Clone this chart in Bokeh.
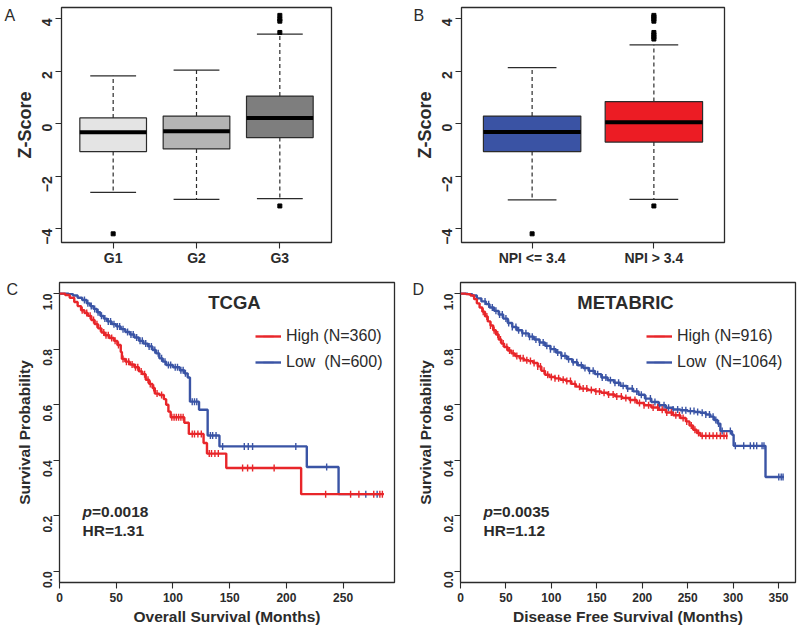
import math
import numpy as np
from bokeh.plotting import figure
from bokeh.models import Range1d, FixedTicker, Label, Legend, LegendItem, NumeralTickFormatter
from bokeh.layouts import column, row
from bokeh.embed import file_html
from bokeh.resources import INLINE

FONT = "Liberation Sans"
INK = "#2b2b2b"
RED = "#e8262a"
BLUE = "#3a54a5"

# ---------------- Panel A : tumour grade ----------------
a_groups = ["G1", "G2", "G3"]
a_q1 = [-1.06, -0.96, -0.53]
a_med = [-0.33, -0.29, 0.22]
a_q3 = [0.22, 0.29, 1.05]
a_low = [-2.61, -2.88, -2.85]
a_high = [1.82, 2.04, 3.41]
a_fill = ["#e4e4e4", "#b4b4b4", "#7e7e7e"]
a_out_group = ["G1", "G3", "G3", "G3", "G3", "G3"]
a_out_val = [-4.19, -3.13, 3.47, 3.90, 3.98, 4.12]

# ---------------- Panel B : NPI ----------------
b_groups = ["NPI <= 3.4", "NPI > 3.4"]
b_q1 = [-1.06, -0.70]
b_med = [-0.32, 0.05]
b_q3 = [0.29, 0.84]
b_low = [-2.90, -2.88]
b_high = [2.13, 3.00]
b_fill = ["#3a53a4", "#ec1c24"]
b_out_group = ["NPI <= 3.4", "NPI > 3.4", "NPI > 3.4", "NPI > 3.4", "NPI > 3.4",
               "NPI > 3.4", "NPI > 3.4", "NPI > 3.4", "NPI > 3.4", "NPI > 3.4"]
b_out_val = [-4.19, -3.13, 3.22, 3.30, 3.38, 3.47, 3.90, 3.98, 4.06, 4.12]

# ---------------- Panel C : TCGA overall survival ----------------
c_high_t = [0, 5, 9, 13, 16, 19, 22, 25, 28, 31, 34, 37, 40, 44, 48, 51, 54, 55, 58, 62,
            66, 70, 73, 76, 79, 82, 84, 88, 92, 94, 96, 98, 110, 114, 127, 130, 147, 213, 286]
c_high_s = [1.0, 0.995, 0.985, 0.97, 0.955, 0.94, 0.93, 0.92, 0.905, 0.89, 0.875, 0.86, 0.85,
            0.84, 0.83, 0.815, 0.79, 0.765, 0.755, 0.745, 0.735, 0.72, 0.71, 0.69, 0.675, 0.66,
            0.64, 0.635, 0.62, 0.60, 0.575, 0.555, 0.535, 0.495, 0.462, 0.424, 0.372, 0.278, 0.278]
c_high_cens = [20, 24, 27, 30, 33, 36, 39, 41, 43, 46, 49, 52, 56, 59, 61, 64, 67, 69, 72, 75,
               78, 80, 83, 86, 90, 99, 101, 103, 105, 107, 109, 117, 119, 122, 125, 132, 134,
               137, 140, 161.4, 165.8, 170.2, 189.2, 234.6, 256.6, 263.9, 277, 282.4, 284.6]
c_low_t = [0, 8, 12, 16, 20, 24, 27, 30, 33, 36, 39, 42, 46, 50, 54, 58, 62, 66, 70, 74, 78,
           82, 85, 88, 91, 94, 100, 106, 110, 113, 115, 123, 130.6, 141, 218, 246, 283]
c_low_s = [1.0, 0.998, 0.993, 0.985, 0.977, 0.965, 0.955, 0.945, 0.933, 0.92, 0.91, 0.90,
           0.89, 0.882, 0.872, 0.862, 0.853, 0.842, 0.83, 0.82, 0.81, 0.797, 0.785, 0.767,
           0.755, 0.743, 0.735, 0.724, 0.713, 0.698, 0.611, 0.582, 0.489, 0.45, 0.376, 0.278, 0.278]
c_low_cens = [22, 25, 28, 31, 34, 37, 40, 43, 45, 48, 51, 53, 56, 60, 63, 65, 68, 71, 73, 76,
              79, 81, 84, 87, 90, 93, 96, 98, 102, 104, 107, 109, 111, 117, 119, 121, 133, 135,
              138, 143.8, 162.9, 166.4, 170.2, 208.3, 235.5, 270, 280]

# ---------------- Panel D : METABRIC disease free survival ----------------
d_high_t = [0, 6, 11, 15, 18, 21, 24, 27, 30, 33, 36, 39, 42, 45, 48, 52, 56, 60, 65, 70,
            75, 80, 85, 89, 93, 98, 104, 110, 116, 122, 127, 132, 140, 148, 155, 162, 170,
            178, 186, 194, 202, 210, 218, 226, 234, 242, 248, 252, 256, 260, 264, 294]
d_high_s = [1.0, 0.998, 0.993, 0.98, 0.965, 0.95, 0.935, 0.918, 0.90, 0.885, 0.868, 0.853,
            0.835, 0.82, 0.808, 0.795, 0.785, 0.775, 0.767, 0.76, 0.757, 0.75, 0.738, 0.722,
            0.708, 0.70, 0.695, 0.69, 0.685, 0.675, 0.665, 0.658, 0.653, 0.648, 0.643, 0.637,
            0.63, 0.624, 0.617, 0.606, 0.598, 0.59, 0.582, 0.572, 0.562, 0.552, 0.54, 0.525,
            0.51, 0.498, 0.488, 0.488]
d_high_cens = [25, 29, 33, 37, 41, 44, 47, 51, 54, 58, 62, 66, 69, 73, 77, 81, 85, 88, 92, 96,
               100, 104, 108, 113, 117, 121, 126, 131, 135, 139, 144, 149, 153, 158, 163, 168,
               172, 177, 182, 187, 192, 197, 202, 207, 212, 217, 222, 227, 232, 237, 241, 245,
               249, 254, 258, 262, 266, 270, 274, 278, 282, 286, 290, 293]
d_low_t = [0, 8, 13, 18, 23, 28, 32, 37, 42, 47, 52, 57, 62, 68, 75, 81, 87, 93, 99, 105,
           111, 117, 123, 129, 135, 141, 148, 155, 162, 169, 176, 183, 190, 196, 203, 210,
           218, 226, 234, 242, 250, 258, 264, 270, 275, 279, 283, 286, 298.8, 300.6, 335.7, 356]
d_low_s = [1.0, 0.998, 0.993, 0.983, 0.972, 0.962, 0.95, 0.938, 0.925, 0.91, 0.894, 0.88,
           0.868, 0.857, 0.845, 0.835, 0.824, 0.812, 0.80, 0.788, 0.776, 0.764, 0.753, 0.742,
           0.732, 0.722, 0.71, 0.698, 0.688, 0.679, 0.668, 0.658, 0.648, 0.636, 0.622, 0.61,
           0.598, 0.589, 0.583, 0.58, 0.577, 0.574, 0.571, 0.565, 0.557, 0.545, 0.532, 0.505,
           0.492, 0.452, 0.34, 0.34]
d_low_cens = [27, 31, 35, 39, 43, 46, 50, 53, 57, 61, 64, 68, 72, 76, 79, 83, 87, 91, 95, 99,
              103, 107, 111, 115, 119, 124, 128, 133, 137, 142, 146, 151, 156, 160, 165, 170,
              174, 179, 184, 189, 194, 199, 204, 209, 214, 219, 224, 229, 234, 239, 244, 248,
              253, 257, 261, 266, 270, 274, 278, 281, 284, 288, 297, 302.5, 311.7, 319, 322.7,
              326, 331.9, 334, 350.3, 353, 355]

TOP_H = 278
BOT_H = 357


def base_fig(width, height, left, right, top, bottom, xr, yr):
    p = figure(width=width, height=height, x_range=Range1d(*xr), y_range=Range1d(*yr),
               output_backend="svg", toolbar_location=None,
               min_border_left=left, min_border_right=right,
               min_border_top=top, min_border_bottom=bottom)
    p.xgrid.visible = False
    p.ygrid.visible = False
    p.outline_line_color = INK
    p.outline_line_width = 1.3
    p.outline_line_alpha = 1.0
    for ax in p.axis:
        ax.axis_line_color = None
        ax.major_tick_line_color = INK
        ax.major_tick_line_width = 1.1
        ax.major_tick_out = 6
        ax.major_tick_in = 0
        ax.minor_tick_line_color = None
        ax.major_label_text_font = FONT
        ax.major_label_text_font_style = "bold"
        ax.major_label_text_color = INK
        ax.axis_label_text_font = FONT
        ax.axis_label_text_font_style = "bold"
        ax.axis_label_text_color = INK
    p.yaxis.major_label_orientation = math.pi / 2
    return p


def letter(p, text, x, y):
    # placed in the left side panel so that it is not clipped by the frame
    p.add_layout(Label(x=x, y=y, x_units="screen", y_units="screen", text=text,
                       text_font=FONT, text_font_size="16px", text_color=INK,
                       text_align="left", text_baseline="middle"), "left")


def box_panel(groups, q1, med, q3, lo, hi, fills, out_g, out_v, cap_w, width, left, right):
    n = len(groups)
    xs = [i + 1 for i in range(n)]
    p = base_fig(width, TOP_H, left, right, 7, 36,
                 (0.5 - 0.04 * n, n + 0.5 + 0.04 * n), (-4.52, 4.42))
    p.segment(x0=xs, y0=q3, x1=xs, y1=hi, line_color=INK, line_width=1.2, line_dash="4 3")
    p.segment(x0=xs, y0=q1, x1=xs, y1=lo, line_color=INK, line_width=1.2, line_dash="4 3")
    cx0 = [x - cap_w / 2 for x in xs]
    cx1 = [x + cap_w / 2 for x in xs]
    p.segment(x0=cx0, y0=hi, x1=cx1, y1=hi, line_color=INK, line_width=1.2)
    p.segment(x0=cx0, y0=lo, x1=cx1, y1=lo, line_color=INK, line_width=1.2)
    p.vbar(x=xs, width=0.8, bottom=q1, top=q3, fill_color=fills, line_color=INK,
           line_width=1.2)
    p.segment(x0=[x - 0.4 for x in xs], y0=med, x1=[x + 0.4 for x in xs], y1=med,
              line_color="black", line_width=4)
    ox = [groups.index(g) + 1 for g in out_g]
    p.scatter(ox, out_v, marker="square", size=4, color="black")
    p.xaxis.ticker = FixedTicker(ticks=xs)
    p.xaxis.major_label_overrides = {x: g for x, g in zip(xs, groups)}
    p.xaxis.major_label_text_font_size = "14px"
    p.xaxis.major_label_standoff = 1
    p.yaxis.ticker = FixedTicker(ticks=[-4, -2, 0, 2, 4])
    p.yaxis.major_label_text_font_size = "14px"
    p.yaxis.major_label_standoff = 8
    p.yaxis.axis_label = "Z-Score"
    p.yaxis.axis_label_text_font_size = "18px"
    p.yaxis.axis_label_standoff = 0
    return p


def step_at(times, surv, t):
    i = int(np.searchsorted(np.asarray(times, dtype=float), t, side="right")) - 1
    return surv[i]


def km_panel(width, left, right, xmax, xticks, series, title, title_x, leg_x, pval, hr,
             xlabel):
    p = base_fig(width, BOT_H, left, right, 4, 53, (0, xmax), (-0.04, 1.04))
    items = []
    for times, surv, cens, col, lab in series:
        rl = p.step(times, surv, mode="after", line_color=col, line_width=2.4)
        cy = [step_at(times, surv, c) for c in cens]
        rc = p.scatter(cens, cy, marker="dash", angle=math.pi / 2, size=7, line_color=col,
                       line_width=1.4)
        items.append(LegendItem(label=lab, renderers=[rl, rc]))
    items = items[::-1]
    leg = Legend(items=items, location=(leg_x, 207), orientation="vertical",
                 glyph_width=26, glyph_height=26, label_height=26, label_standoff=5,
                 spacing=0, padding=0, margin=0, border_line_color=None,
                 background_fill_alpha=0, label_text_font=FONT,
                 label_text_font_size="16px", label_text_color=INK)
    p.add_layout(leg)
    p.add_layout(Label(x=title_x, y=280, x_units="screen", y_units="screen", text=title,
                       text_font=FONT, text_font_size="18.5px", text_font_style="bold",
                       text_color=INK, text_align="center", text_baseline="middle"))
    p.add_layout(Label(x=23, y=71, x_units="screen", y_units="screen", text="p",
                       text_font=FONT, text_font_size="15.5px",
                       text_font_style="bold italic", text_color=INK,
                       text_align="left", text_baseline="middle"))
    p.add_layout(Label(x=32.5, y=71, x_units="screen", y_units="screen", text=pval,
                       text_font=FONT, text_font_size="15.5px", text_font_style="bold",
                       text_color=INK, text_align="left", text_baseline="middle"))
    p.add_layout(Label(x=23, y=52, x_units="screen", y_units="screen", text=hr,
                       text_font=FONT, text_font_size="15.5px", text_font_style="bold",
                       text_color=INK, text_align="left", text_baseline="middle"))
    p.xaxis.ticker = FixedTicker(ticks=xticks)
    p.xaxis.major_label_text_font_size = "12px"
    p.xaxis.major_label_standoff = 4
    p.xaxis.axis_label = xlabel
    p.xaxis.axis_label_text_font_size = "15.5px"
    p.xaxis.axis_label_standoff = 3
    p.yaxis.ticker = FixedTicker(ticks=[0.0, 0.2, 0.4, 0.6, 0.8, 1.0])
    p.yaxis.formatter = NumeralTickFormatter(format="0.0")
    p.yaxis.major_label_text_font_size = "12px"
    p.yaxis.major_label_standoff = 6
    p.yaxis.axis_label = "Survival Probability"
    p.yaxis.axis_label_text_font_size = "15.5px"
    p.yaxis.axis_label_standoff = 3
    return p


pA = box_panel(a_groups, a_q1, a_med, a_q3, a_low, a_high, a_fill, a_out_group, a_out_val,
               0.55, 400, 58, 69)
letter(pA, "A", 4, 227)

pB = box_panel(b_groups, b_q1, b_med, b_q3, b_low, b_high, b_fill, b_out_group, b_out_val,
               0.40, 400, 61, 76)
letter(pB, "B", 13, 227)

pC = km_panel(400, 58, 6, 295.3, [0, 50, 100, 150, 200, 250],
              [(c_low_t, c_low_s, c_low_cens, BLUE, "Low  (N=600)"),
               (c_high_t, c_high_s, c_high_cens, RED, "High (N=360)")],
              "TCGA", 175, 196, "=0.0018", "HR=1.31", "Overall Survival (Months)")
letter(pC, "C", 6, 293)

pD = km_panel(400, 60, 5, 368.7, [0, 50, 100, 150, 200, 250, 300, 350],
              [(d_low_t, d_low_s, d_low_cens, BLUE, "Low  (N=1064)"),
               (d_high_t, d_high_s, d_high_cens, RED, "High (N=916)")],
              "METABRIC", 165, 186, "=0.0035", "HR=1.12", "Disease Free Survival (Months)")
letter(pD, "D", 11, 293)

layout = column(row(pA, pB), row(pC, pD))
open("out.html", "w").write(file_html(layout, INLINE))
